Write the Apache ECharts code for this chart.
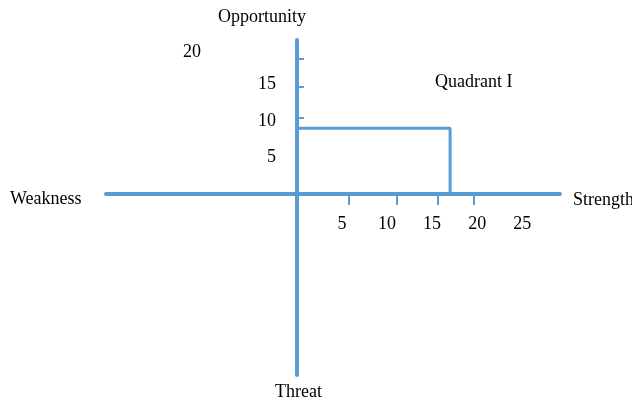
<!DOCTYPE html>
<html><head><meta charset="utf-8">
<script src="https://cdn.jsdelivr.net/npm/echarts@6/dist/echarts.min.js"></script>
<style>html,body{margin:0;padding:0;background:#fff}#c{width:632px;height:402px}</style>
</head><body><div id="c"></div>
<script>
// Data
const xLabelValues = [5, 10, 15, 20, 25];
const yLabelValues = [5, 10, 15, 20];
const xTickValues = [5.8, 11.1, 15.6, 19.6];
const yTickValues = [10.4, 14.7, 18.5];
const pointX = 17;
const pointY = 9;
const pointLabel = '(1,7:0,9)';
const quadrantLabel = 'Quadrant I';
const axisNameRight = 'Strength';
const axisNameLeft = 'Weakness';
const axisNameTop = 'Opportunity';
const axisNameBottom = 'Threat';

const BLUE = '#5b9bd5';
const FONT = 'Liberation Serif';
const TXT = {fontFamily: FONT, fontSize: 18, color: '#000'};

const X_MIN = -21.2, X_MAX = 29.2, Y_MIN = -24.8, Y_MAX = 21.1;
const G = {left: 106, right: 72, top: 40, bottom: 27};
const W = 632, H = 402;
// place the axes through the origin (offset from the grid edges)
const xOffset = -((H - G.bottom - G.top) * (0 - Y_MIN) / (Y_MAX - Y_MIN));
const yOffset = -((W - G.left - G.right) * (0 - X_MIN) / (X_MAX - X_MIN));

const chart = echarts.init(document.getElementById('c'));
chart.setOption({
  animation: false,
  backgroundColor: '#fff',
  grid: Object.assign({outerBoundsMode: 'none', containLabel: false}, G),
  xAxis: {
    type: 'value', min: X_MIN, max: X_MAX, position: 'bottom', offset: xOffset,
    name: axisNameRight, nameLocation: 'end', nameGap: 13,
    nameTextStyle: Object.assign({}, TXT, {verticalAlign: 'top', lineHeight: 12}),
    axisLine: {show: true, onZero: false, lineStyle: {color: BLUE, width: 4}},
    axisTick: {show: true, customValues: xTickValues, length: 11, lineStyle: {color: BLUE, width: 2}},
    axisLabel: Object.assign({show: true, customValues: xLabelValues, margin: 21}, TXT),
    splitLine: {show: false}
  },
  yAxis: {
    type: 'value', min: Y_MIN, max: Y_MAX, position: 'left', offset: yOffset,
    name: axisNameTop, nameLocation: 'end', nameGap: 14,
    nameTextStyle: Object.assign({}, TXT, {padding: [0, 70, 0, 0]}),
    axisLine: {show: true, onZero: false, lineStyle: {color: BLUE, width: 4}},
    axisTick: {show: true, customValues: yTickValues, inside: true, length: 7, lineStyle: {color: BLUE, width: 2}},
    axisLabel: Object.assign({
      show: true, customValues: yLabelValues, margin: 21,
      formatter: v => v === 20 ? '{far|20}' : String(v),
      rich: {far: Object.assign({}, TXT, {padding: [8, 75, 0, 0]})}
    }, TXT),
    splitLine: {show: false}
  },
  graphic: [
    {type: 'text', left: 10, top: 190, style: {text: axisNameLeft, fill: '#000', font: '18px "Liberation Serif"'}},
    {type: 'text', left: 275, top: 383, style: {text: axisNameBottom, fill: '#000', font: '18px "Liberation Serif"'}},
    {type: 'text', left: 435, top: 73, style: {text: quadrantLabel, fill: '#000', font: '18px "Liberation Serif"'}}
  ],
  series: [{
    type: 'line',
    data: [
      [0, pointY],
      {value: [pointX, pointY], label: {show: true, formatter: pointLabel, position: 'right', distance: 6, offset: [0, 8], fontFamily: FONT, fontSize: 18, color: '#000'}},
      [pointX, 0]
    ],
    symbol: 'none',
    lineStyle: {color: BLUE, width: 3},
    silent: true
  }]
});
</script>
</body></html>
